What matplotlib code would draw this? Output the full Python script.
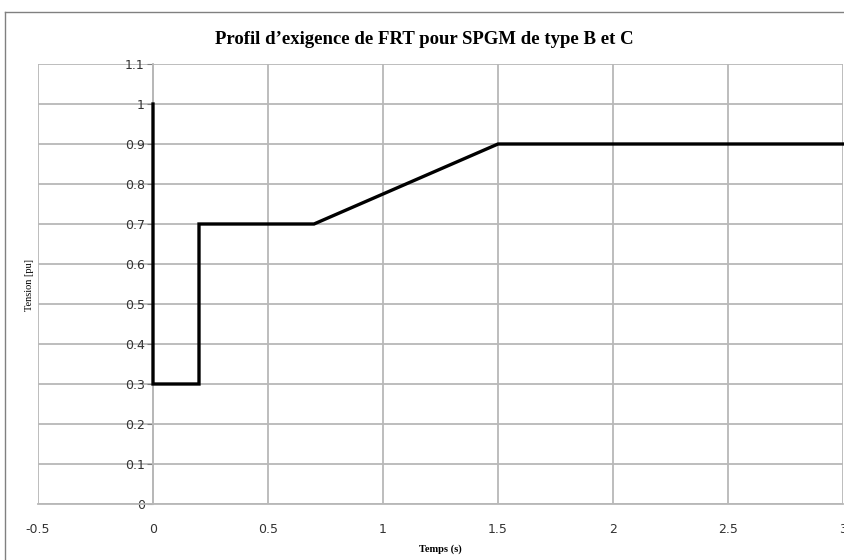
import matplotlib.pyplot as plt
from matplotlib.lines import Line2D

# données du profil FRT
temps = [0, 0, 0.2, 0.2, 0.7, 1.5, 3.0]
tension = [1.0, 0.3, 0.3, 0.7, 0.7, 0.9, 0.9]
x_ticks = [-0.5, 0, 0.5, 1, 1.5, 2, 2.5, 3]
x_labels = ["-0.5", "0", "0.5", "1", "1.5", "2", "2.5", "3"]
y_ticks = [0, 0.1, 0.2, 0.3, 0.4, 0.5, 0.6, 0.7, 0.8, 0.9, 1.0, 1.1]
y_labels = ["0", "0.1", "0.2", "0.3", "0.4", "0.5", "0.6", "0.7", "0.8", "0.9", "1", "1.1"]

W, H = 845, 560
fig = plt.figure(figsize=(W / 100, H / 100), dpi=100)
ax = fig.add_axes([38 / W, 1 - 504 / H, (843 - 38) / W, (504 - 64) / H])

grid_col = "#b8b8b8"
ax.set_xlim(-0.5, 3)
ax.set_ylim(0, 1.1)
ax.set_xticks(x_ticks)
ax.set_xticklabels(x_labels)
ax.set_yticks(y_ticks)
ax.set_yticklabels(y_labels)
ax.grid(True, color=grid_col, linewidth=1.3)
ax.set_axisbelow(True)

for s in ["top", "right"]:
    ax.spines[s].set_visible(False)
ax.spines["left"].set_position(("data", 0))
ax.spines["left"].set_color(grid_col)
ax.spines["bottom"].set_color(grid_col)
ax.spines["left"].set_linewidth(1.3)
ax.spines["bottom"].set_linewidth(1.3)

ax.tick_params(axis="y", length=4, color="#808080", labelsize=9, labelcolor="#333333", pad=2)
ax.tick_params(axis="x", length=0, labelsize=9, labelcolor="#333333", pad=14)
for lab in ax.get_xticklabels() + ax.get_yticklabels():
    lab.set_family("DejaVu Sans")

ax.plot(temps, tension, color="black", linewidth=2.4, solid_joinstyle="miter", clip_on=False, zorder=5)

ax.set_xlabel("Temps (s)", fontsize=7.5, fontweight="bold", family="Liberation Serif", labelpad=6)
fig.text(30 / W, 1 - 285 / H, "Tension [pu]", rotation=90, fontsize=7.5,
         family="Liberation Serif", ha="center", va="center")
fig.text(424 / W, 1 - 40 / H, "Profil d\u2019exigence de FRT pour SPGM de type B et C",
         fontsize=13.5, fontweight="bold", family="Liberation Serif", ha="center", va="center")

# cadre extérieur du graphique
fig.add_artist(Line2D([5 / W, 5 / W], [0, 1 - 12 / H], transform=fig.transFigure, color="#808080", linewidth=1))
fig.add_artist(Line2D([5 / W, 1], [1 - 12 / H, 1 - 12 / H], transform=fig.transFigure, color="#808080", linewidth=1))

plt.savefig("out.png", dpi=100)
